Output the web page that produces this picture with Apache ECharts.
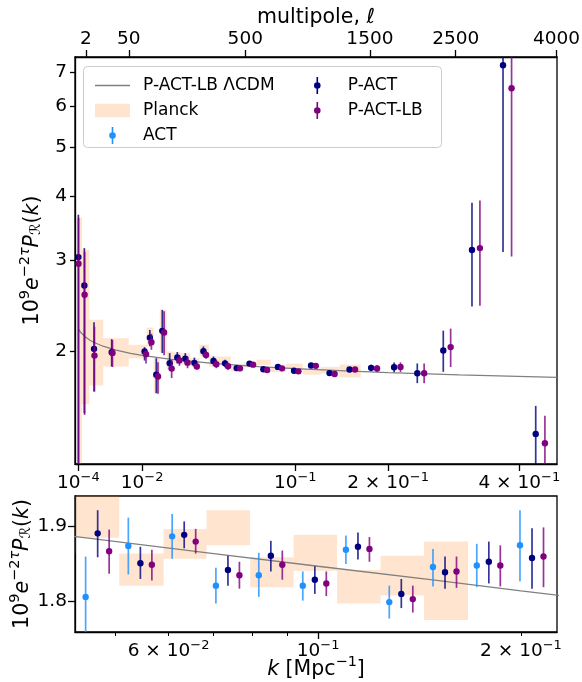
<!DOCTYPE html>
<html>
<head>
<meta charset="utf-8">
<script src="https://cdn.jsdelivr.net/npm/echarts@6/dist/echarts.min.js"></script>
<style>
  html, body { margin: 0; padding: 0; background: #fff; }
  #chart { width: 582px; height: 682px; }
</style>
</head>
<body>
<div id="chart"></div>
<script>
// ---- data ----
// P-ACT / P-ACT-LB bins (k in Mpc^-1), values are 1e9 e^{-2tau} P_R(k)
var kBins = [1.0e-4, 3.4e-4, 1.03e-3, 3.25e-3, 0.0107, 0.0123, 0.0144, 0.0165, 0.0193, 0.0224,
             0.0259, 0.0302, 0.0348, 0.0403, 0.0471, 0.0545, 0.0633, 0.0735, 0.0851, 0.0989,
             0.1146, 0.1329, 0.1543, 0.1792, 0.2077, 0.2386, 0.2758, 0.320, 0.3715, 0.4299];

var pactVal = [3.048, 2.683, 2.018, 1.988, 1.994, 2.123, 1.796, 2.188, 1.892, 1.941,
               1.930, 1.895, 1.996, 1.912, 1.891, 1.851, 1.889, 1.842, 1.861, 1.829,
               1.873, 1.810, 1.839, 1.853, 1.858, 1.809, 2.003, 3.146, 7.217, 1.377];
var pactLo  = [0.9, 1.511, 1.666, 1.864, 1.915, 2.043, 1.653, 1.980, 1.836, 1.890,
               1.890, 1.860, 1.950, 1.870, 1.859, 1.830, 1.871, 1.821, 1.840, 1.810,
               1.856, 1.791, 1.817, 1.824, 1.817, 1.730, 1.820, 2.440, 3.118, 1.190];
var pactHi  = [3.687, 3.174, 2.275, 2.108, 2.033, 2.196, 1.935, 2.405, 1.980, 1.990,
               1.980, 1.940, 2.040, 1.950, 1.922, 1.873, 1.907, 1.861, 1.881, 1.847,
               1.892, 1.830, 1.860, 1.880, 1.898, 1.890, 2.190, 3.890, 11.3, 1.562];

var lbVal = [2.958, 2.573, 1.958, 1.982, 1.970, 2.080, 1.782, 2.172, 1.847, 1.915,
             1.897, 1.864, 1.963, 1.884, 1.867, 1.849, 1.880, 1.835, 1.849, 1.824,
             1.870, 1.803, 1.840, 1.848, 1.860, 1.809, 2.034, 3.174, 6.508, 1.321];
var lbLo  = [0.9, 1.500, 1.666, 1.860, 1.890, 2.010, 1.650, 1.960, 1.770, 1.870,
             1.850, 1.840, 1.930, 1.850, 1.837, 1.828, 1.864, 1.817, 1.829, 1.807,
             1.853, 1.785, 1.818, 1.820, 1.819, 1.730, 1.860, 2.450, 3.056, 1.147];
var lbHi  = [3.633, 3.120, 2.230, 2.100, 2.010, 2.160, 1.900, 2.390, 1.920, 1.960,
             1.950, 1.890, 2.000, 1.920, 1.896, 1.869, 1.897, 1.853, 1.868, 1.840,
             1.886, 1.821, 1.860, 1.875, 1.899, 1.890, 2.210, 3.930, 9.96, 1.495];

// ACT alone (only shown in the zoomed panel)
var actK   = [0.0471, 0.0545, 0.0633, 0.0735, 0.0851, 0.0989, 0.1146, 0.1329, 0.1543, 0.1792, 0.2077];
var actVal = [1.806, 1.874, 1.887, 1.821, 1.835, 1.821, 1.869, 1.799, 1.846, 1.848, 1.875];
var actLo  = [1.740, 1.836, 1.857, 1.797, 1.806, 1.801, 1.850, 1.777, 1.820, 1.819, 1.827];
var actHi  = [1.860, 1.912, 1.917, 1.845, 1.865, 1.840, 1.888, 1.821, 1.870, 1.877, 1.922];

// Planck bands: bin edges in k and the band limits
var planckEdges = [8.9e-5, 2.28e-4, 6.46e-4, 2.04e-3, 6.57e-3, 1.13e-2, 1.35e-2, 1.56e-2, 1.81e-2,
                   2.09e-2, 2.44e-2, 2.82e-2, 3.27e-2, 3.77e-2, 4.37e-2, 5.07e-2, 5.90e-2,
                   6.83e-2, 7.93e-2, 9.20e-2, 0.1067, 0.1238, 0.1436, 0.1669];
var planckLo = [0.9, 1.573, 1.711, 1.864, 1.935, 2.039, 1.653, 1.985, 1.836, 1.892, 1.878, 1.864,
                1.955, 1.864, 1.885, 1.821, 1.857, 1.875, 1.819, 1.841, 1.797, 1.808, 1.775];
var planckHi = [3.64, 3.15, 2.299, 2.117, 2.055, 2.221, 1.935, 2.405, 1.994, 1.985, 1.980, 1.935,
                2.055, 1.950, 1.950, 1.864, 1.897, 1.922, 1.859, 1.889, 1.842, 1.861, 1.880];

// P-ACT-LB LCDM best fit
var lcdmK = [1e-4, 2e-4, 4e-4, 7e-4, 1e-3, 2e-3, 4e-3, 7e-3, 0.01, 0.02, 0.04, 0.07, 0.1, 0.15, 0.2, 0.3, 0.47];
var lcdmP = [2.206, 2.167, 2.128, 2.098, 2.079, 2.042, 2.006, 1.977, 1.959, 1.925, 1.891, 1.864,
             1.847, 1.828, 1.814, 1.795, 1.775];

// tick values / labels
var kTicksTop = [1e-4, 1e-2, 0.1, 0.2, 0.4];
var kLabelsTop = [['10', '−4'], ['10', '−2'], ['10', '−1'], ['2 × 10', '−1'], ['4 × 10', '−1']];
var ellTicks = [2, 50, 500, 1500, 2500, 4000];
var yTicksTop = [2, 3, 4, 5, 6, 7];
var kMajorLow = [0.1];
var kMinorLow = [0.05, 0.06, 0.07, 0.08, 0.09, 0.2];
var kTicksLow = [0.06, 0.1, 0.2];
var kLabelsLow = [['6 × 10', '−2'], ['10', '−1'], ['2 × 10', '−1']];
var yTicksLow = [1.8, 1.9];

// ---- scales / styles ----
var FONT = 'DejaVu Sans';
var C_ACT = '#1e90ff', C_PACT = '#000080', C_LB = '#800080', C_LINE = '#808080';
var C_PLANCK = 'rgba(255,127,14,0.2)';
var sx = function (k) { return Math.sqrt(k); };      // top panel: sqrt(k) scale
var lx = function (k) { return Math.log10(k); };     // zoom panel: log k
var ly = function (v) { return Math.log10(v); };     // top panel: log y
var id = function (v) { return v; };
var dodgeLB = 1.04, dodgeACT = 1 / 1.042;

function errData(ks, v, lo, hi, fx, fy, dodge) {
  return ks.map(function (k, i) { return [fx(k * dodge), fy(v[i]), fy(lo[i]), fy(hi[i])]; });
}
function boxData(fx, fy) {
  return planckLo.map(function (lo, i) {
    return [fx(planckEdges[i]), fx(planckEdges[i + 1]), fy(lo), fy(planckHi[i])];
  });
}
function errRender(color) {
  return function (params, api) {
    var c = api.coord([api.value(0), api.value(1)]);
    var lo = api.coord([api.value(0), api.value(2)]);
    var hi = api.coord([api.value(0), api.value(3)]);
    return { type: 'group', children: [
      { type: 'line', shape: { x1: c[0], y1: lo[1], x2: c[0], y2: hi[1] },
        style: { stroke: color, lineWidth: 1.7, opacity: 0.8 } },
      { type: 'circle', shape: { cx: c[0], cy: c[1], r: 3.2 }, style: { fill: color } }
    ] };
  };
}
function boxRender(params, api) {
  var a = api.coord([api.value(0), api.value(3)]);
  var b = api.coord([api.value(1), api.value(2)]);
  return { type: 'rect', shape: { x: a[0], y: a[1], width: b[0] - a[0], height: b[1] - a[1] },
           style: { fill: C_PLANCK } };
}
function tickFmt(ticks, labels, fn) {
  return function (v) {
    for (var i = 0; i < ticks.length; i++) {
      if (Math.abs(fn(ticks[i]) - v) < 1e-9) return '{b|' + labels[i][0] + '}{s|' + labels[i][1] + '}';
    }
    return '';
  };
}

var tickRich = {
  b: { fontFamily: FONT, fontSize: 18.5, color: '#000', lineHeight: 24, verticalAlign: 'middle' },
  s: { fontFamily: FONT, fontSize: 13, color: '#000', lineHeight: 12, verticalAlign: 'top' }
};
var nameRich = {
  n: { fontFamily: FONT, fontSize: 20.5, color: '#000', lineHeight: 30, verticalAlign: 'middle' },
  i: { fontFamily: FONT, fontSize: 20.5, color: '#000', fontStyle: 'italic', lineHeight: 30, verticalAlign: 'middle' },
  s: { fontFamily: FONT, fontSize: 14.5, color: '#000', lineHeight: 14, verticalAlign: 'top' },
  si: { fontFamily: FONT, fontSize: 14.5, color: '#000', fontStyle: 'italic', lineHeight: 14, verticalAlign: 'top' },
  u: { fontFamily: FONT, fontSize: 14.5, color: '#000', lineHeight: 14, verticalAlign: 'bottom', padding: [0, 0, 4, 0] }
};
var yName = '{n|10}{s|9}{i|e}{s|−2}{si|τ}{i|P}{u|ℛ}{n|(}{i|k}{n|)}';

var axisLine = { show: true, lineStyle: { color: '#000', width: 1.3 } };
function tick(vals, len, w) {
  return { show: true, length: len || 7, lineStyle: { color: '#000', width: w || 1.3 }, customValues: vals };
}

var errIcon = 'path://M-0.8,0H0.8V17H-0.8Z M3.3,8.5A3.3,3.3,0,1,1,-3.3,8.5A3.3,3.3,0,1,1,3.3,8.5Z';
var legendText = { fontFamily: FONT, fontSize: 17, color: '#000', padding: [0, 0, 0, 8] };

var chart = echarts.init(document.getElementById('chart'), null, { renderer: 'canvas' });
var option = {
  animation: false,
  backgroundColor: '#fff',
  grid: [
    { left: 75, top: 57, width: 482, height: 407, show: true, borderColor: '#000', borderWidth: 1.3,
      backgroundColor: 'transparent', outerBoundsMode: 'none' },
    { left: 75, top: 496, width: 482, height: 136, show: true, borderColor: '#000', borderWidth: 1.3,
      backgroundColor: 'transparent', outerBoundsMode: 'none' }
  ],
  xAxis: [
    { gridIndex: 0, type: 'value', position: 'bottom', min: sx(2.73e-5), max: sx(0.4702),
      axisLine: axisLine, axisTick: tick(kTicksTop.map(sx)), splitLine: { show: false },
      axisLabel: { customValues: kTicksTop.map(sx), formatter: tickFmt(kTicksTop, kLabelsTop, sx),
                   margin: 7, rich: tickRich } },
    { gridIndex: 0, type: 'value', position: 'top', min: 0, max: 63.3,
      axisLine: axisLine, axisTick: tick(ellTicks.map(Math.sqrt)), splitLine: { show: false },
      axisLabel: { customValues: ellTicks.map(Math.sqrt), margin: 8,
                   formatter: function (v) { return String(Math.round(v * v)); },
                   fontFamily: FONT, fontSize: 18.5, color: '#000' },
      name: 'multipole, ℓ', nameLocation: 'middle', nameGap: 29, nameMoveOverlap: false,
      nameTextStyle: { fontFamily: FONT, fontSize: 20.5, color: '#000' } },
    { gridIndex: 1, type: 'value', position: 'bottom', min: lx(0.04359), max: lx(0.2262),
      axisLine: axisLine, axisTick: tick(kMajorLow.map(lx)), splitLine: { show: false },
      axisLabel: { customValues: kTicksLow.map(lx), formatter: tickFmt(kTicksLow, kLabelsLow, lx),
                   margin: 7, rich: tickRich },
      name: '{i|k}{n| [Mpc}{s|−1}{n|]}', nameLocation: 'middle', nameGap: 23, nameMoveOverlap: false,
      nameTextStyle: { rich: nameRich } },
    // minor ticks of the log k axis
    { gridIndex: 1, type: 'value', position: 'bottom', min: lx(0.04359), max: lx(0.2262),
      axisLine: { show: false }, axisTick: tick(kMinorLow.map(lx), 4, 1), splitLine: { show: false },
      axisLabel: { show: false } }
  ],
  yAxis: [
    { gridIndex: 0, type: 'value', min: ly(1.203), max: ly(7.49),
      axisLine: axisLine, axisTick: tick(yTicksTop.map(ly), 5), splitLine: { show: false },
      axisLabel: { customValues: yTicksTop.map(ly), margin: 8,
                   formatter: function (v) { return String(Math.round(Math.pow(10, v))); },
                   fontFamily: FONT, fontSize: 18.5, color: '#000' },
      name: yName, nameLocation: 'middle', nameGap: 27, nameRotate: 90, nameMoveOverlap: false,
      nameTextStyle: { rich: nameRich } },
    { gridIndex: 1, type: 'value', min: 1.759, max: 1.941,
      axisLine: axisLine, axisTick: tick(yTicksLow), splitLine: { show: false },
      axisLabel: { customValues: yTicksLow, margin: 8,
                   formatter: function (v) { return v.toFixed(1); },
                   fontFamily: FONT, fontSize: 18.5, color: '#000' },
      name: yName, nameLocation: 'middle', nameGap: 37, nameRotate: 90, nameMoveOverlap: false,
      nameTextStyle: { rich: nameRich } }
  ],
  legend: [
    { left: 90, top: 72, orient: 'vertical', itemWidth: 35, itemHeight: 17, itemGap: 8,
      selectedMode: false, textStyle: legendText, z: 20,
      data: [ { name: 'P-ACT-LB ΛCDM', icon: 'path://M0,0H35V1.3H0Z' },
              { name: 'Planck', icon: 'path://M0,0H35V13.3H0Z' },
              { name: 'ACT', icon: errIcon } ] },
    { left: 309, top: 72, orient: 'vertical', itemWidth: 35, itemHeight: 17, itemGap: 8,
      selectedMode: false, textStyle: legendText, z: 20,
      data: [ { name: 'P-ACT', icon: errIcon }, { name: 'P-ACT-LB', icon: errIcon } ] }
  ],
  graphic: [
    { type: 'rect', left: 83, top: 66, z: 10,
      shape: { width: 358, height: 81, r: 4 },
      style: { fill: 'rgba(255,255,255,0.8)', stroke: '#cccccc', lineWidth: 1 } }
  ],
  series: [
    // top panel
    { name: 'Planck', type: 'custom', xAxisIndex: 0, yAxisIndex: 0, clip: true, z: 1,
      itemStyle: { color: C_PLANCK }, renderItem: boxRender, data: boxData(sx, ly) },
    { name: 'P-ACT-LB ΛCDM', type: 'line', xAxisIndex: 0, yAxisIndex: 0, z: 2, showSymbol: false,
      clip: true, color: C_LINE, lineStyle: { color: C_LINE, width: 1.3 },
      data: lcdmK.map(function (k, i) { return [sx(k), ly(lcdmP[i])]; }) },
    { name: 'P-ACT', type: 'custom', xAxisIndex: 0, yAxisIndex: 0, clip: true, z: 3,
      itemStyle: { color: C_PACT }, renderItem: errRender(C_PACT),
      data: errData(kBins, pactVal, pactLo, pactHi, sx, ly, 1) },
    { name: 'P-ACT-LB', type: 'custom', xAxisIndex: 0, yAxisIndex: 0, clip: true, z: 3,
      itemStyle: { color: C_LB }, renderItem: errRender(C_LB),
      data: errData(kBins, lbVal, lbLo, lbHi, sx, ly, dodgeLB) },
    // zoomed panel
    { name: 'Planck', type: 'custom', xAxisIndex: 2, yAxisIndex: 1, clip: true, z: 1,
      itemStyle: { color: C_PLANCK }, renderItem: boxRender, data: boxData(lx, id) },
    { name: 'P-ACT-LB ΛCDM', type: 'line', xAxisIndex: 2, yAxisIndex: 1, z: 2, showSymbol: false,
      clip: true, color: C_LINE, lineStyle: { color: C_LINE, width: 1.3 },
      data: lcdmK.map(function (k, i) { return [lx(k), lcdmP[i]]; }) },
    { name: 'ACT', type: 'custom', xAxisIndex: 2, yAxisIndex: 1, clip: true, z: 3,
      itemStyle: { color: C_ACT }, renderItem: errRender(C_ACT),
      data: errData(actK, actVal, actLo, actHi, lx, id, dodgeACT) },
    { name: 'P-ACT', type: 'custom', xAxisIndex: 2, yAxisIndex: 1, clip: true, z: 3,
      itemStyle: { color: C_PACT }, renderItem: errRender(C_PACT),
      data: errData(kBins, pactVal, pactLo, pactHi, lx, id, 1) },
    { name: 'P-ACT-LB', type: 'custom', xAxisIndex: 2, yAxisIndex: 1, clip: true, z: 3,
      itemStyle: { color: C_LB }, renderItem: errRender(C_LB),
      data: errData(kBins, lbVal, lbLo, lbHi, lx, id, dodgeLB) }
  ]
};
chart.setOption(option);
</script>
</body>
</html>
